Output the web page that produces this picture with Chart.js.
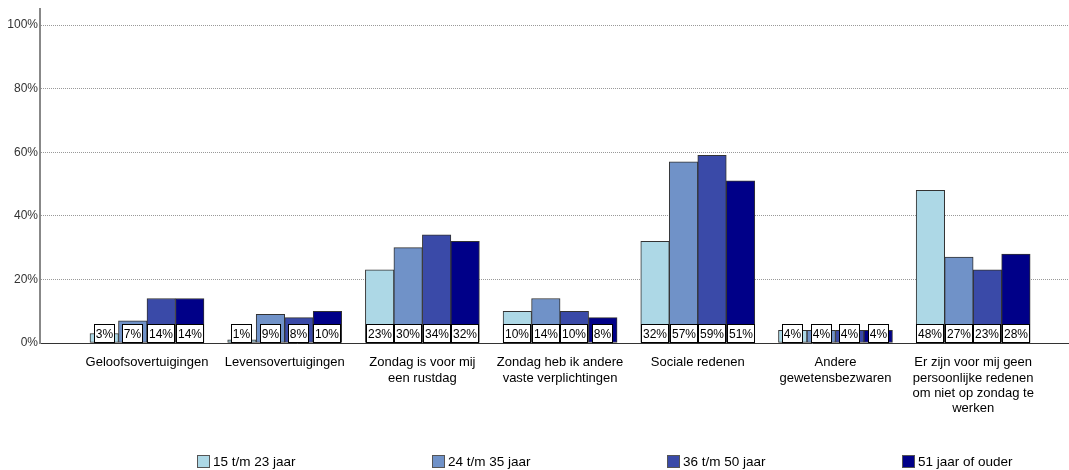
<!DOCTYPE html>
<html>
<head>
<meta charset="utf-8">
<script src="https://cdn.jsdelivr.net/npm/chart.js@4.4.1/dist/chart.umd.min.js"></script>
<style>
  html, body { margin: 0; padding: 0; background: #fff; }
  #wrap { width: 1069px; height: 470px; }
</style>
</head>
<body>
<div id="wrap"><canvas id="chart"></canvas></div>
<script>
  // categorieën (x-as)
  var CATEGORIES = [
    'Geloofsovertuigingen',
    'Levensovertuigingen',
    ['Zondag is voor mij', 'een rustdag'],
    ['Zondag heb ik andere', 'vaste verplichtingen'],
    'Sociale redenen',
    ['Andere', 'gewetensbezwaren'],
    ['Er zijn voor mij geen', 'persoonlijke redenen', 'om niet op zondag te', 'werken']
  ];
  var POSITIONS = [0, 1, 2, 3, 4, 5, 6];

  var SERIES_LABELS = ['15 t/m 23 jaar', '24 t/m 35 jaar', '36 t/m 50 jaar', '51 jaar of ouder'];
  var VALUES_15_23 = [3, 1, 23, 10, 32, 4, 48];
  var VALUES_24_35 = [7, 9, 30, 14, 57, 4, 27];
  var VALUES_36_50 = [14, 8, 34, 10, 59, 4, 23];
  var VALUES_51_PLUS = [14, 10, 32, 8, 51, 4, 28];

  var Y_TICKS = [0, 20, 40, 60, 80, 100];

  var COLORS = ['#ADD8E6', '#7092C8', '#3A4AA8', '#000088'];
  var FONT = '"Liberation Sans", Arial, sans-serif';

  // witte labelvakjes onderaan elke staaf
  var valueBoxes = {
    id: 'valueBoxes',
    afterDatasetsDraw: function (chart) {
      var ctx = chart.ctx;
      ctx.save();
      ctx.font = '12px ' + FONT;
      ctx.textAlign = 'center';
      ctx.textBaseline = 'middle';
      chart.data.datasets.forEach(function (ds, i) {
        var meta = chart.getDatasetMeta(i);
        meta.data.forEach(function (bar, j) {
          var txt = ds.data[j] + '%';
          var w = Math.round(ctx.measureText(txt).width + 4);
          var h = 19;
          var x = Math.round(bar.x - w / 2);
          var y = Math.round(bar.base - h);
          ctx.fillStyle = '#fff';
          ctx.fillRect(x, y, w, h);
          ctx.strokeStyle = '#000';
          ctx.lineWidth = 1;
          ctx.strokeRect(x + 0.5, y + 0.5, w - 1, h - 1);
          ctx.fillStyle = '#000';
          ctx.fillText(txt, x + w / 2, y + h / 2 + 1);
        });
      });
      ctx.restore();
    }
  };

  // legenda met vaste, gelijke vakken
  var slotLegend = {
    id: 'slotLegend',
    afterDraw: function (chart) {
      var ctx = chart.ctx;
      var start = 197, step = 235, yMid = 461;
      ctx.save();
      ctx.font = '13.5px ' + FONT;
      ctx.textBaseline = 'middle';
      chart.data.datasets.forEach(function (ds, i) {
        var x = start + i * step;
        ctx.fillStyle = ds.backgroundColor;
        ctx.fillRect(x, yMid - 6, 13, 13);
        ctx.strokeStyle = '#555';
        ctx.lineWidth = 1;
        ctx.strokeRect(x + 0.5, yMid - 5.5, 12, 12);
        ctx.fillStyle = '#000';
        ctx.fillText(ds.label, x + 16, yMid + 1);
      });
      ctx.restore();
    }
  };

  function makeDataset(idx, values) {
    return {
      label: SERIES_LABELS[idx],
      data: values,
      backgroundColor: COLORS[idx],
      borderColor: '#333',
      borderWidth: 1,
      borderSkipped: false,
      barThickness: 28.5
    };
  }

  new Chart(document.getElementById('chart'), {
    type: 'bar',
    data: {
      labels: POSITIONS,
      datasets: [
        makeDataset(0, VALUES_15_23),
        makeDataset(1, VALUES_24_35),
        makeDataset(2, VALUES_36_50),
        makeDataset(3, VALUES_51_PLUS)
      ]
    },
    plugins: [valueBoxes, slotLegend],
    options: {
      responsive: true,
      maintainAspectRatio: false,
      animation: false,
      layout: { padding: { top: 8, right: 0, left: 0, bottom: 0 } },
      plugins: {
        legend: { display: false },
        tooltip: { enabled: false }
      },
      scales: {
        x: {
          type: 'linear',
          min: -0.777,
          max: 6.696,
          offset: false,
          afterFit: function (s) { s.height = 127; },
          afterBuildTicks: function (s) {
            s.ticks = s.ticks.filter(function (t) { return POSITIONS.indexOf(t.value) >= 0; });
          },
          grid: { display: false, drawTicks: false },
          border: { display: true, color: '#333', width: 1 },
          ticks: {
            stepSize: 1,
            autoSkip: false,
            maxRotation: 0,
            padding: 12,
            color: '#000',
            font: { family: FONT, size: 13, lineHeight: 1.18 },
            callback: function (v) { return CATEGORIES[v] !== undefined ? CATEGORIES[v] : ''; }
          }
        },
        y: {
          min: 0,
          max: 105,
          afterFit: function (s) { s.width = 40; },
          afterBuildTicks: function (s) {
            s.ticks = s.ticks.filter(function (t) { return Y_TICKS.indexOf(t.value) >= 0; });
          },
          grid: { color: '#999', lineWidth: 1, drawTicks: false },
          border: { display: true, color: '#888', width: 2, dash: [1, 1] },
          ticks: {
            stepSize: 20,
            padding: 2,
            color: '#333',
            font: { family: FONT, size: 12 },
            callback: function (v) { return v + '%'; }
          }
        }
      }
    }
  });
</script>
</body>
</html>
